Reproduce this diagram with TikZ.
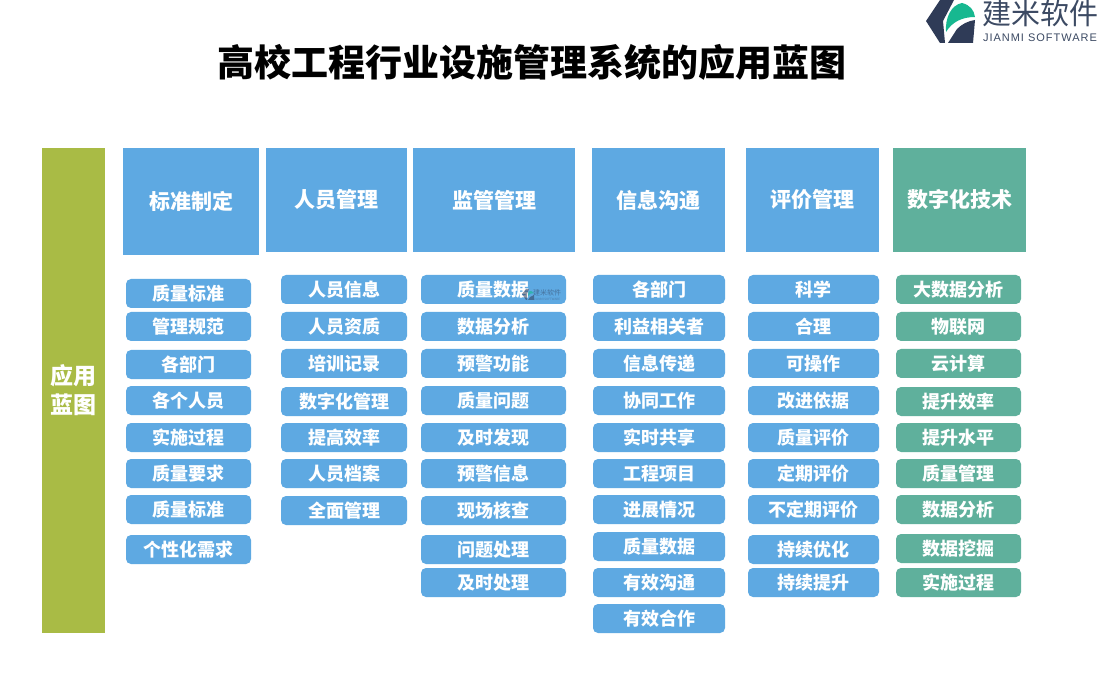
\documentclass[tikz,border=0pt]{standalone}
\usepackage{fontspec}
\setmainfont{Noto Sans CJK SC}
\newfontfamily\logolat[LetterSpace=9]{Liberation Sans}
\definecolor{blueb}{HTML}{5EA9E2}
\definecolor{greenb}{HTML}{5FB09C}
\definecolor{oliveb}{HTML}{A9BB45}
\definecolor{logodark}{HTML}{2F3B57}
\definecolor{logogreen}{HTML}{17B890}
\definecolor{logotext}{HTML}{3C4A63}
\tikzset{
  hdr/.style={draw=none,fill=#1,text=white,font=\bfseries\fontsize{21}{25}\selectfont,inner sep=0pt,anchor=center},
  pillbox/.style={draw=none,fill=#1,text=white,rounded corners=5pt,font=\bfseries\fontsize{18}{21}\selectfont,inner sep=0pt,minimum height=29pt,anchor=center},
}
\newcommand{\hd}[7]{\node[hdr=#7,minimum width=#3pt-#2pt,minimum height=#5pt-#4pt] (#1) at ({(#2+#3)/2},{(#4+#5)/2}) {\raisebox{0.8pt}{#6}};}
\newcommand{\pl}[6]{\node[pillbox=#6,minimum width=#3pt-#2pt] (#1) at ({(#2+#3)/2},{#4+0.5}) {#5};}
\begin{document}
\begin{tikzpicture}[x=1pt,y=-1pt]
\useasboundingbox (0,0) rectangle (1100,700);
\fill[white] (0,0) rectangle (1100,700);
\node[font=\bfseries\fontsize{37}{42}\selectfont,text=black] (title) at (532,62) {高校工程行业设施管理系统的应用蓝图};
% logo
\fill[logodark] (940,0) -- (926,21) -- (940,43) -- (945,43) -- (943,21) -- (954,0) -- cycle;
\fill[logogreen] (946,32) .. controls (945,18) and (951,5) .. (962,3) .. controls (970,5) and (974,10) .. (975,17) .. controls (962,17) and (952,22) .. (946,32) -- cycle;
\fill[logodark] (948,43) -- (957,29) .. controls (962,24) and (968,21) .. (975,20) -- (973,43) -- cycle;
\node[font=\fontsize{29}{32}\selectfont,text=logotext] (logocn) at (1040,13) {建米软件};
\node[font=\logolat\fontsize{11}{12}\selectfont,text=logotext] (logoen) at (1040,38) {JIANMI SOFTWARE};
% left bar
\node[hdr=oliveb,minimum width=63pt,minimum height=485pt,align=center,font=\bfseries\fontsize{23}{29}\selectfont] (bar) at (73.5,390.5) {应用\\蓝图};
% headers
\hd{h1}{123}{259}{148}{255}{标准制定}{blueb}
\hd{h2}{266}{407}{148}{252}{人员管理}{blueb}
\hd{h3}{413}{575}{148}{252}{监管管理}{blueb}
\hd{h4}{592}{725}{148}{252}{信息沟通}{blueb}
\hd{h5}{746}{879}{148}{252}{评价管理}{blueb}
\hd{h6}{893}{1026}{148}{252}{\raisebox{1.5pt}{数字化技术}}{greenb}
% col 1
\pl{a1}{126}{251}{293}{质量标准}{blueb}
\pl{a2}{126}{251}{326}{管理规范}{blueb}
\pl{a3}{126}{251}{364}{各部门}{blueb}
\pl{a4}{126}{251}{400}{各个人员}{blueb}
\pl{a5}{126}{251}{437}{实施过程}{blueb}
\pl{a6}{126}{251}{473}{质量要求}{blueb}
\pl{a7}{126}{251}{509}{质量标准}{blueb}
\pl{a8}{126}{251}{549}{个性化需求}{blueb}
% col 2
\pl{b1}{281}{407}{289}{人员信息}{blueb}
\pl{b2}{281}{407}{326}{人员资质}{blueb}
\pl{b3}{281}{407}{363}{培训记录}{blueb}
\pl{b4}{281}{407}{401}{数字化管理}{blueb}
\pl{b5}{281}{407}{437}{提高效率}{blueb}
\pl{b6}{281}{407}{473}{人员档案}{blueb}
\pl{b7}{281}{407}{510}{全面管理}{blueb}
% col 3
\pl{c1}{421}{566}{289}{质量数据}{blueb}
\pl{c2}{421}{566}{326}{数据分析}{blueb}
\pl{c3}{421}{566}{363}{预警功能}{blueb}
\pl{c4}{421}{566}{400}{质量问题}{blueb}
\pl{c5}{421}{566}{437}{及时发现}{blueb}
\pl{c6}{421}{566}{473}{预警信息}{blueb}
\pl{c7}{421}{566}{510}{现场核查}{blueb}
\pl{c8}{421}{566}{549}{问题处理}{blueb}
\pl{c9}{421}{566}{582}{及时处理}{blueb}
% col 4
\pl{d1}{593}{725}{289}{各部门}{blueb}
\pl{d2}{593}{725}{326}{利益相关者}{blueb}
\pl{d3}{593}{725}{363}{信息传递}{blueb}
\pl{d4}{593}{725}{400}{协同工作}{blueb}
\pl{d5}{593}{725}{437}{实时共享}{blueb}
\pl{d6}{593}{725}{473}{工程项目}{blueb}
\pl{d7}{593}{725}{509}{进展情况}{blueb}
\pl{d8}{593}{725}{546}{质量数据}{blueb}
\pl{d9}{593}{725}{582}{有效沟通}{blueb}
\pl{d10}{593}{725}{618}{有效合作}{blueb}
% col 5
\pl{e1}{748}{879}{289}{科学}{blueb}
\pl{e2}{748}{879}{326}{合理}{blueb}
\pl{e3}{748}{879}{363}{可操作}{blueb}
\pl{e4}{748}{879}{400}{改进依据}{blueb}
\pl{e5}{748}{879}{437}{质量评价}{blueb}
\pl{e6}{748}{879}{473}{定期评价}{blueb}
\pl{e7}{748}{879}{509}{不定期评价}{blueb}
\pl{e8}{748}{879}{549}{持续优化}{blueb}
\pl{e9}{748}{879}{582}{持续提升}{blueb}
% col 6
\pl{f1}{896}{1021}{289}{大数据分析}{greenb}
\pl{f2}{896}{1021}{326}{物联网}{greenb}
\pl{f3}{896}{1021}{363}{云计算}{greenb}
\pl{f4}{896}{1021}{401}{提升效率}{greenb}
\pl{f5}{896}{1021}{437}{提升水平}{greenb}
\pl{f6}{896}{1021}{473}{质量管理}{greenb}
\pl{f7}{896}{1021}{509}{数据分析}{greenb}
\pl{f8}{896}{1021}{548}{数据挖掘}{greenb}
\pl{f9}{896}{1021}{582}{实施过程}{greenb}
% watermark
\fill[logodark,opacity=.55] (526,289) -- (522,294) -- (526,300) -- (527,300) -- (527,294) -- (529,289) -- cycle;
\fill[logogreen,opacity=.6] (528,296) .. controls (528,291) and (530,289) .. (534,293) .. controls (531,293) and (529,294) .. (528,296) -- cycle;
\fill[logodark,opacity=.55] (528,300) -- (530,297) -- (534,295) -- (534,300) -- cycle;
\node[font=\fontsize{7}{8}\selectfont,text=logodark,opacity=.5] (wm) at (547,293) {建米软件};
\node[font=\fontsize{3}{4}\selectfont,text=logodark,opacity=.4] (wmen) at (547,299) {JIANMI SOFTWARE};
\end{tikzpicture}
\end{document}
